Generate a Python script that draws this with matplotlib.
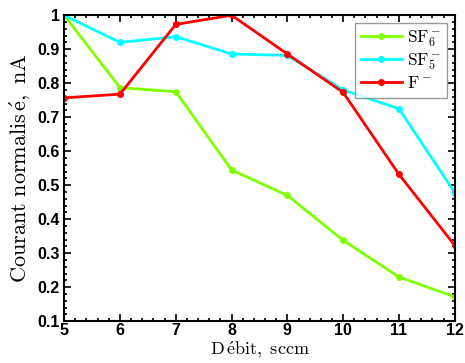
import matplotlib
matplotlib.use('Agg')
import matplotlib.pyplot as plt
from matplotlib.ticker import MultipleLocator

plt.rcParams['mathtext.fontset'] = 'cm'

debit = [5, 6, 7, 8, 9, 10, 11, 12]
sf6 = [1.0, 0.787, 0.775, 0.545, 0.470, 0.338, 0.230, 0.172]
sf5 = [1.0, 0.920, 0.937, 0.886, 0.882, 0.780, 0.725, 0.478]
f_ion = [0.757, 0.768, 0.973, 1.0, 0.886, 0.773, 0.532, 0.323]

fig = plt.figure(figsize=(4.65, 3.63), dpi=100)
ax = fig.add_axes([0.138, 0.115, 0.840, 0.843])

ax.plot(debit, sf6, color='#80ff00', lw=2, marker='o', ms=4, label=r'$\mathrm{SF}_6^-$')
ax.plot(debit, sf5, color='#00ffff', lw=2, marker='o', ms=4, label=r'$\mathrm{SF}_5^-$')
ax.plot(debit, f_ion, color='#ff0000', lw=2, marker='o', ms=4, label=r'$\mathrm{F}^-$')

ax.set_xlim(5, 12)
ax.set_ylim(0.1, 1.0)
ax.xaxis.set_major_locator(MultipleLocator(1))
ax.xaxis.set_minor_locator(MultipleLocator(0.2))
ax.yaxis.set_major_locator(MultipleLocator(0.1))
ax.yaxis.set_minor_locator(MultipleLocator(0.02))
ax.yaxis.set_major_formatter(plt.FuncFormatter(lambda v, p: ('%g' % round(v, 2))))
ax.tick_params(which='both', direction='in', top=True, right=True, width=1.2)
ax.tick_params(which='major', length=5, labelsize=11.5, pad=3)
ax.tick_params(axis='x', which='major', pad=1.5)
ax.tick_params(which='minor', length=2.5)
for lab in ax.get_xticklabels() + ax.get_yticklabels():
    lab.set_fontfamily('Liberation Sans')
    lab.set_fontweight('bold')
for s in ax.spines.values():
    s.set_linewidth(1.5)

ax.set_xlabel(r'$\mathrm{D\,\acute{e}bit,\ sccm}$', fontsize=13)
ax.xaxis.set_label_coords(0.5, -0.128, transform=ax.transAxes)
ax.xaxis.label.set_va('bottom')
ax.set_ylabel(r'$\mathrm{Courant\ normalis\,\acute{e},\ nA}$', fontsize=16, labelpad=4)

leg = ax.legend(loc='upper right', fontsize=12.5, fancybox=False, edgecolor='#808080',
                handlelength=2.4, handletextpad=0.3, borderaxespad=0.45,
                labelspacing=0.15, borderpad=0.3)
leg.get_frame().set_linewidth(1.0)

fig.savefig('out.png', dpi=100)
